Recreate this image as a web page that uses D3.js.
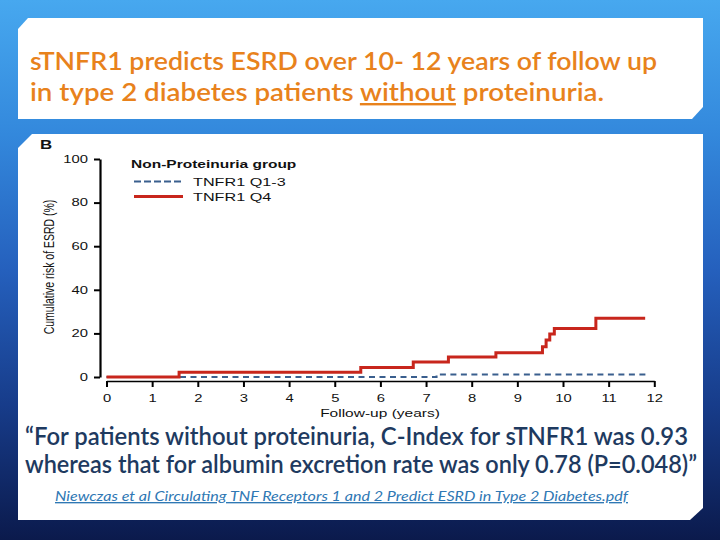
<!DOCTYPE html>
<html><head><meta charset="utf-8">
<script src="https://cdn.jsdelivr.net/npm/d3@7"></script>
<style>html,body{margin:0;padding:0;background:#fff;}svg{display:block;}</style>
</head><body>
<script>
// ---- data ----
const xTicks = [0,1,2,3,4,5,6,7,8,9,10,11,12];
const yTicks = [0,20,40,60,80,100];
const seriesNames = ["TNFR1 Q1-3","TNFR1 Q4"];
const q13Times = [0, 7.23, 11.86];
const q13Risk  = [0, 1.2, 1.2];
const q4Times  = [0, 1.59, 5.57, 6.72, 7.49, 8.53, 9.55, 9.63, 9.71, 9.81, 10.72, 11.8];
const q4Risk   = [0, 2.2, 4.4, 6.9, 9.2, 11.1, 13.9, 17.0, 19.7, 22.3, 26.9, 26.9];
const titleLines = ["sTNFR1 predicts ESRD over 10- 12 years of follow up", "in type 2 diabetes patients ", "without", " proteinuria."];
const quoteLines = ["\u201cFor patients without proteinuria, C-Index for sTNFR1 was 0.93", "whereas that for albumin excretion rate was only 0.78 (P=0.048)\u201d"];
const citation = "Niewczas et al Circulating TNF Receptors 1 and 2 Predict ESRD in Type 2 Diabetes.pdf";

const W = 720, H = 540;
const SX = 1.41; // horizontal stretch of the embedded figure
const svg = d3.select("body").append("svg").attr("width", W).attr("height", H);
const defs = svg.append("defs");
const g = defs.append("linearGradient").attr("id","bg").attr("x1",0).attr("y1",0).attr("x2",0).attr("y2",1);
[[0,"#47a8ef"],[0.25,"#3388dc"],[0.5,"#2560bd"],[0.75,"#173c8a"],[1,"#0b1a4c"]].forEach(s=>g.append("stop").attr("offset",s[0]).attr("stop-color",s[1]));
svg.append("rect").attr("width",W).attr("height",H).attr("fill","url(#bg)");

// panels
svg.append("path").attr("d","M28,18 L703,18 L703,107 L692,119 L18,119 L18,29 Z").attr("fill","#fff");
svg.append("path").attr("d","M32,134 L703,134 L703,508 L690,520 L18,520 L18,148 Z").attr("fill","#fff");

// title
const tf = "Lato, 'Open Sans', sans-serif";
svg.append("text").attr("x",30).attr("y",70).attr("font-family",tf).attr("font-size",24).attr("font-weight",600)
  .attr("fill","#e8821c").attr("textLength",627).attr("lengthAdjust","spacingAndGlyphs").text(titleLines[0]);
const t2 = svg.append("text").attr("x",30).attr("y",101).attr("font-family",tf).attr("font-size",24).attr("font-weight",600)
  .attr("fill","#e8821c").attr("textLength",574).attr("lengthAdjust","spacingAndGlyphs");
t2.append("tspan").text(titleLines[1]);
t2.append("tspan").attr("text-decoration","underline").text(titleLines[2]);
t2.append("tspan").text(titleLines[3]);

// chart
const x = d3.scaleLinear().domain([0,12]).range([106.5,654.3]);
const y = d3.scaleLinear().domain([0,100]).range([377,159]);
const af = "'Liberation Sans', Arial, sans-serif";

function stext(px, py, str, size, opts={}) {
  const t = svg.append("text").attr("transform",`translate(${px},${py}) scale(${SX},1)`)
    .attr("font-family",af).attr("font-size",size).attr("fill","#111")
    .attr("text-anchor",opts.anchor||"start").text(str);
  if (opts.bold) t.attr("font-weight","bold");
  return t;
}

const yAxis = svg.append("g").attr("transform","translate(100,0)")
  .call(d3.axisLeft(y).tickValues(yTicks).tickSize(6).tickPadding(4).tickSizeOuter(0));
yAxis.select(".domain").attr("stroke","#000").attr("stroke-width",2.2);
yAxis.selectAll(".tick line").attr("stroke","#000").attr("stroke-width",2);
yAxis.selectAll(".tick text").attr("font-family",af).attr("font-size",10.5).attr("fill","#111")
  .attr("x",-12/SX).attr("transform",`scale(${SX},1)`);

const xAxis = svg.append("g").attr("transform","translate(0,381)")
  .call(d3.axisBottom(x).tickValues(xTicks).tickSize(6).tickPadding(8).tickSizeOuter(0));
xAxis.select(".domain").attr("stroke","#000").attr("stroke-width",1.6);
xAxis.selectAll(".tick line").attr("stroke","#000").attr("stroke-width",2);
xAxis.selectAll(".tick text").attr("font-family",af).attr("font-size",10.5).attr("fill","#111")
  .attr("transform",`scale(${SX},1)`);

stext(380, 417, "Follow-up (years)", 11, {anchor:"middle"});
svg.append("text").attr("transform",`translate(54,267) scale(${SX},1) rotate(-90)`).attr("text-anchor","middle")
  .attr("font-family",af).attr("font-size",10.5).attr("fill","#111").text("Cumulative risk of ESRD (%)");
stext(40, 149, "B", 12, {bold:true});

const line = d3.line().x(d=>x(d[0])).y(d=>y(d[1])).curve(d3.curveStepAfter);
svg.append("path").datum(d3.zip(q13Times,q13Risk)).attr("d",line).attr("fill","none")
  .attr("stroke","#3a5f8e").attr("stroke-width",2).attr("stroke-dasharray","6,4.5");
svg.append("path").datum(d3.zip(q4Times,q4Risk)).attr("d",line).attr("fill","none")
  .attr("stroke","#c8261c").attr("stroke-width",3);

// legend
stext(131, 168, "Non-Proteinuria group", 11, {bold:true});
const leg = [{n:seriesNames[0],c:"#3a5f8e",dash:"7,3",w:2,yy:181.5},{n:seriesNames[1],c:"#c8261c",dash:null,w:3,yy:196.5}];
leg.forEach(l=>{
  svg.append("line").attr("x1",134).attr("x2",183).attr("y1",l.yy).attr("y2",l.yy).attr("stroke",l.c).attr("stroke-width",l.w).attr("stroke-dasharray",l.dash);
  stext(193, l.yy+4, l.n, 11.5);
});

// quote
quoteLines.forEach((q,i)=>{
  svg.append("text").attr("x",25).attr("y",445+i*28).attr("font-family",tf).attr("font-size",24).attr("font-weight",600)
    .attr("fill","#1e3a60").attr("textLength",i===0?663:672).attr("lengthAdjust","spacingAndGlyphs").text(q);
});
svg.append("text").attr("x",55).attr("y",501).attr("font-family",tf).attr("font-size",13.5).attr("font-style","italic")
  .attr("fill","#2f78b4").attr("text-decoration","underline").attr("textLength",573).attr("lengthAdjust","spacingAndGlyphs").text(citation);
</script>
</body></html>
